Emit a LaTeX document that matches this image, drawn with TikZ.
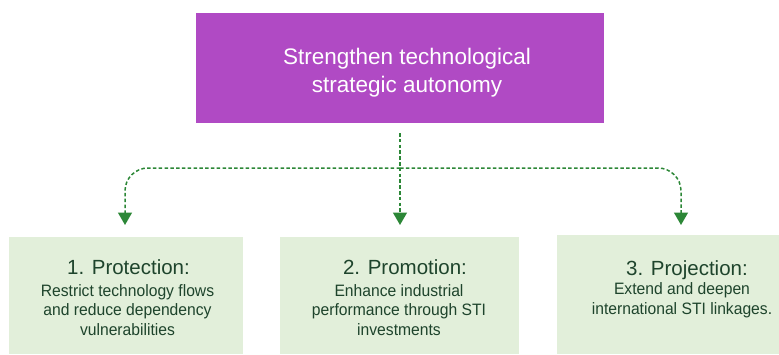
\documentclass[tikz,border=0pt]{standalone}
\usepackage{fontspec}
\setmainfont{Liberation Sans}
\newfontfamily\condfont[FakeStretch=0.95]{Liberation Sans}
\usetikzlibrary{arrows.meta}
\definecolor{topfill}{RGB}{176,74,196}
\definecolor{boxfill}{RGB}{226,239,218}
\definecolor{txtgreen}{RGB}{30,68,44}
\definecolor{conngreen}{RGB}{44,135,55}
\tikzset{
  topbox/.style={fill=topfill, draw=none, inner sep=0pt},
  pillarbox/.style={fill=boxfill, draw=none, inner sep=0pt},
  toptext/.style={text=white, align=center, inner sep=0pt, anchor=base,
    font=\fontsize{22.5}{28}\selectfont},
  titletext/.style={text=txtgreen, inner sep=0pt, anchor=base,
    font=\fontsize{20.5}{24}\selectfont},
  bodytext/.style={text=txtgreen, align=center, inner sep=0pt, anchor=base,
    font=\condfont\fontsize{16.5}{19.5}\selectfont},
  conn/.style={draw=conngreen, line width=1.5pt, dash pattern=on 3.5pt off 2.3pt,
    -{Triangle[width=14pt,length=12.5pt]}}
}
\begin{document}
\begin{tikzpicture}[x=1pt,y=-1pt]
\useasboundingbox (0,0) rectangle (779,354);
% boxes
\node[topbox, minimum width=408pt, minimum height=110pt] (top) at (400,68) {};
\node[pillarbox, minimum width=234pt, minimum height=117pt] (b1) at (126,295.5) {};
\node[pillarbox, minimum width=239pt, minimum height=117pt] (b2) at (399.5,295.5) {};
\node[pillarbox, minimum width=222pt, minimum height=119pt] (b3) at (668,294.5) {};
% texts (base = baseline of the last line)
\node[toptext] (tt) at (407,92) {Strengthen technological\\strategic autonomy};
\node[titletext] (t1) at (128.5,274) {1. Protection:};
\node[bodytext] (d1) at (127.5,335) {Restrict technology flows\\and reduce dependency\\vulnerabilities};
\node[titletext] (t2) at (405,274) {2. Promotion:};
\node[bodytext] (d2) at (399,335) {Enhance industrial\\performance through STI\\investments};
\node[titletext] (t3) at (687,275) {3. Projection:};
\node[bodytext] (d3) at (682,314) {Extend and deepen\\international STI linkages.};
% connectors
\coordinate (s) at (400,133);
\coordinate (j) at (400,168);
\coordinate (e1) at (125,225);
\coordinate (e2) at (400,225);
\coordinate (e3) at (681,225);
\draw[conn] (s) -- (e2);
\draw[conn, rounded corners=23pt] (j) -| (e1);
\draw[conn, rounded corners=23pt] (j) -| (e3);
\end{tikzpicture}
\end{document}
